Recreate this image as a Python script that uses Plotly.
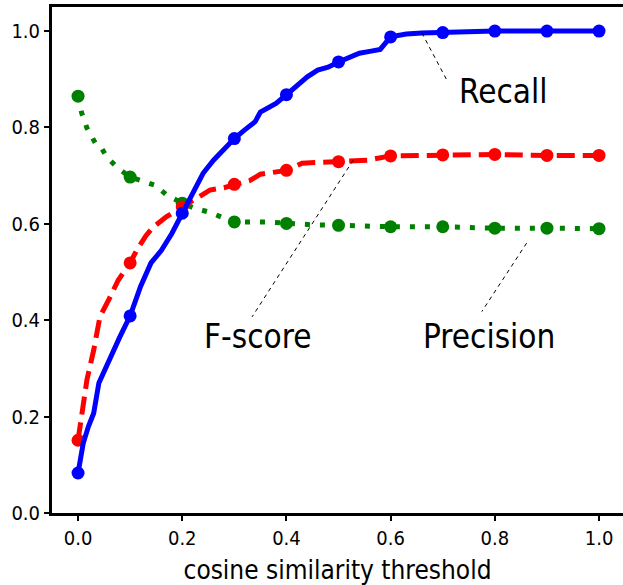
import plotly.graph_objects as go

# ---- data ----
recall_x = [0.00, 0.01, 0.02, 0.03, 0.04, 0.06, 0.08, 0.10, 0.12, 0.14, 0.16, 0.18, 0.20,
            0.22, 0.24, 0.26, 0.28, 0.30, 0.32, 0.34, 0.35, 0.38, 0.40, 0.42, 0.44, 0.46,
            0.48, 0.50, 0.52, 0.54, 0.56, 0.58, 0.60, 0.63, 0.66, 0.70, 0.75, 0.80, 0.90, 1.00]
recall_y = [0.083, 0.145, 0.180, 0.207, 0.270, 0.320, 0.365, 0.409, 0.470, 0.519, 0.545, 0.580, 0.622,
            0.668, 0.705, 0.732, 0.755, 0.777, 0.795, 0.812, 0.832, 0.850, 0.868, 0.888, 0.905, 0.919,
            0.925, 0.936, 0.946, 0.954, 0.958, 0.962, 0.988, 0.994, 0.996, 0.997, 1.000, 1.000, 1.000, 1.000]

fscore_x = [0.00, 0.008, 0.017, 0.03, 0.042, 0.06, 0.077, 0.10, 0.113, 0.13, 0.144, 0.17, 0.20,
            0.23, 0.253, 0.28, 0.30, 0.33, 0.35, 0.40, 0.43, 0.50, 0.555, 0.60, 0.70, 0.80, 0.90, 1.00]
fscore_y = [0.151, 0.214, 0.276, 0.338, 0.407, 0.445, 0.483, 0.519, 0.546, 0.575, 0.593, 0.615, 0.635,
            0.655, 0.670, 0.675, 0.682, 0.690, 0.703, 0.711, 0.726, 0.729, 0.732, 0.741, 0.743, 0.744, 0.742, 0.742]

precision_x = [0.00, 0.007, 0.017, 0.033, 0.042, 0.055, 0.074, 0.10, 0.12, 0.148, 0.17, 0.20, 0.225,
               0.253, 0.28, 0.30, 0.36, 0.40, 0.45, 0.50, 0.55, 0.60, 0.70, 0.80, 0.90, 1.00]
precision_y = [0.865, 0.830, 0.799, 0.768, 0.763, 0.739, 0.718, 0.697, 0.690, 0.680, 0.660, 0.643, 0.632,
               0.624, 0.612, 0.604, 0.604, 0.601, 0.598, 0.597, 0.595, 0.594, 0.594, 0.591, 0.591, 0.590]

marker_x = [0.0, 0.1, 0.2, 0.3, 0.4, 0.5, 0.6, 0.7, 0.8, 0.9, 1.0]

tick_vals = [0.0, 0.2, 0.4, 0.6, 0.8, 1.0]
tick_text = ["0.0", "0.2", "0.4", "0.6", "0.8", "1.0"]

x_title = "cosine similarity threshold"

# labels: (text, label x, label y, leader start x, leader start y, leader end x, leader end y)
labels = [
    ("Recall", 0.815, 0.875, 0.660, 0.996, 0.708, 0.898),
    ("F-score", 0.345, 0.366, 0.528, 0.732, 0.334, 0.407),
    ("Precision", 0.789, 0.366, 0.861, 0.560, 0.775, 0.418),
]

FONT = "DejaVu Sans Condensed, DejaVu Sans, sans-serif"


def marks(xs, ys):
    mx, my = [], []
    for x, y in zip(xs, ys):
        if any(abs(x - m) < 1e-9 for m in marker_x):
            mx.append(x)
            my.append(y)
    return mx, my


series = [
    (recall_x, recall_y, "#0000ff", "solid"),
    (fscore_x, fscore_y, "#ff0000", "18px,8px"),
    (precision_x, precision_y, "#008000", "5px,10px"),
]

fig = go.Figure()
for xs, ys, col, dash in reversed(series):
    fig.add_trace(go.Scatter(x=xs, y=ys, mode="lines",
                             line=dict(color=col, width=5, dash=dash),
                             showlegend=False, hoverinfo="skip"))
    mx, my = marks(xs, ys)
    fig.add_trace(go.Scatter(x=mx, y=my, mode="markers",
                             marker=dict(color=col, size=13, line=dict(width=0)),
                             showlegend=False))

for text, tx, ty, sx, sy, ex, ey in labels:
    fig.add_shape(type="line", x0=sx, y0=sy, x1=ex, y1=ey, xref="x", yref="y",
                  line=dict(color="black", width=1, dash="4px,4px"))
    fig.add_annotation(x=tx, y=ty, xref="x", yref="y", text=text, showarrow=False,
                       font=dict(family=FONT, size=33, color="black"),
                       xanchor="center", yanchor="middle")

fig.update_layout(
    width=623, height=585,
    margin=dict(l=52, r=0, t=7, b=72),
    paper_bgcolor="white", plot_bgcolor="white",
    font=dict(family=FONT, color="black"),
    xaxis=dict(range=[-0.05, 1.046], tickvals=tick_vals, ticktext=tick_text,
               showgrid=False, zeroline=False,
               showline=True, linecolor="black", linewidth=3, mirror=True,
               ticks="outside", ticklen=5, tickwidth=2, tickcolor="black",
               tickfont=dict(family=FONT, size=20, color="black"),
               title=dict(text=x_title, font=dict(family=FONT, size=26, color="black"), standoff=14)),
    yaxis=dict(range=[0, 1.05], tickvals=tick_vals, ticktext=tick_text,
               showgrid=False, zeroline=False,
               showline=True, linecolor="black", linewidth=3, mirror=False,
               ticks="outside", ticklen=5, tickwidth=2, tickcolor="black",
               tickfont=dict(family=FONT, size=20, color="black")),
)

fig.write_html("out.html")
